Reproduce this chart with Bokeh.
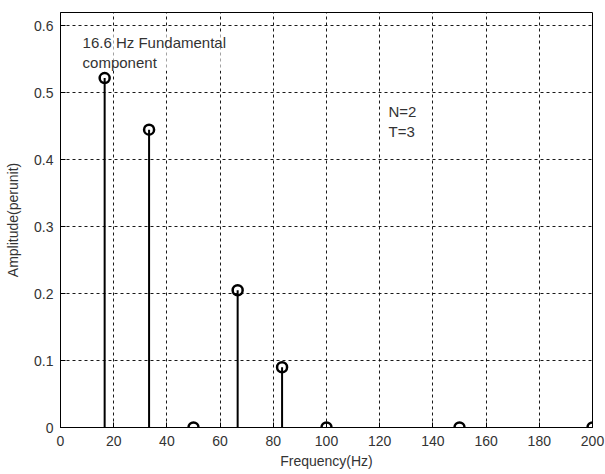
from bokeh.plotting import figure
from bokeh.models import Range1d, Label, FixedTicker
from bokeh.embed import file_html
from bokeh.resources import INLINE

freqs = [16.6, 33.3, 50, 66.6, 83.3, 100, 150, 200]
amps = [0.522, 0.445, 0.0, 0.205, 0.09, 0.0, 0.0, 0.0]
x_ticks = [0, 20, 40, 60, 80, 100, 120, 140, 160, 180, 200]
y_ticks = [0, 0.1, 0.2, 0.3, 0.4, 0.5, 0.6]

FONT = "Liberation Sans"

p = figure(width=605, height=474, output_backend="svg", toolbar_location=None,
           x_range=Range1d(0, 200), y_range=Range1d(0, 0.62),
           frame_width=532, frame_height=415,
           min_border_left=60, min_border_right=13, min_border_top=12, min_border_bottom=47)

p.background_fill_color = "white"
p.border_fill_color = "white"
p.outline_line_color = "black"
p.outline_line_width = 1

p.xaxis.ticker = FixedTicker(ticks=x_ticks)
p.yaxis.ticker = FixedTicker(ticks=y_ticks)
p.yaxis.major_label_overrides = {0: "0", 0.1: "0.1", 0.2: "0.2", 0.3: "0.3", 0.4: "0.4", 0.5: "0.5", 0.6: "0.6"}
for ax in (p.xaxis, p.yaxis):
    ax.major_tick_in = 5
    ax.major_tick_out = 0
    ax.minor_tick_line_color = None
    ax.axis_line_color = "black"
    ax.major_label_text_font = FONT
    ax.major_label_text_font_size = "14px"
    ax.major_label_text_color = "#333333"
    ax.axis_label_text_font = FONT
    ax.axis_label_text_font_size = "14px"
    ax.axis_label_text_font_style = "normal"
    ax.axis_label_text_color = "#333333"

p.xaxis.axis_label = "Frequency(Hz)"
p.yaxis.axis_label = "Amplitude(perunit)"
p.xaxis.axis_label_standoff = 4
p.yaxis.axis_label_standoff = 10
p.xaxis.major_label_standoff = 8
p.yaxis.major_label_standoff = 7

for g in (p.xgrid, p.ygrid):
    g.grid_line_color = "black"
    g.grid_line_dash = "3 3"
    g.grid_line_width = 1
    g.grid_line_alpha = 0.9

p.segment(x0=freqs, y0=[0] * len(freqs), x1=freqs, y1=amps, line_color="black", line_width=2)
p.scatter(x=freqs, y=amps, size=10, marker="circle", fill_color=None, line_color="black", line_width=2.5)

p.add_layout(Label(x=8.3, y=0.588, text="16.6 Hz Fundamental\ncomponent", text_font=FONT,
                   text_font_size="15px", text_color="#333333", text_baseline="top",
                   text_line_height=1.18,
                   background_fill_color="white", background_fill_alpha=0.6))
p.add_layout(Label(x=123.3, y=0.485, text="N=2\nT=3", text_font=FONT,
                   text_font_size="15px", text_color="#333333", text_baseline="top",
                   text_line_height=1.18))

open("out.html", "w").write(file_html(p, INLINE))
